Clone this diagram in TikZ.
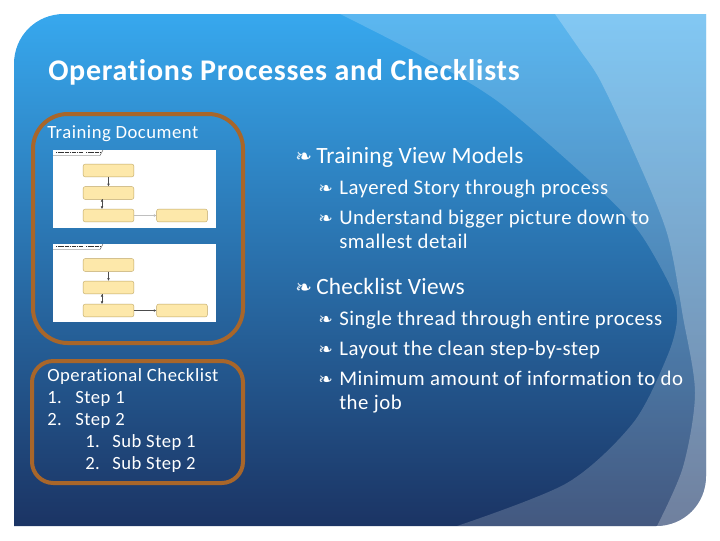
\documentclass[tikz,border=0pt]{standalone}
\usepackage{fontspec}
\setmainfont{Carlito}
\newfontfamily\bulletfont{DejaVu Sans}
\newfontfamily\titlefont[LetterSpace=2.4,Ligatures=NoCommon]{Carlito}
\newfontfamily\smallfont[LetterSpace=2.8,Ligatures=NoCommon]{Carlito}
\newfontfamily\headfont[LetterSpace=1.1,Ligatures=NoCommon]{Carlito}
\newfontfamily\subfont[LetterSpace=2.5,Ligatures=NoCommon]{Carlito}
\usetikzlibrary{arrows.meta}

\definecolor{slidetop}{RGB}{55,168,238}
\definecolor{slidemid}{RGB}{42,122,185}
\definecolor{slidebot}{RGB}{27,52,100}
\definecolor{framebrown}{RGB}{168,102,42}
\definecolor{boxfill}{RGB}{253,232,170}
\definecolor{boxline}{RGB}{190,165,100}

\tikzset{
  frame/.style={draw=framebrown,line width=3pt},
  stepbox/.style={shape=rectangle,rounded corners=1.5pt,fill=boxfill,draw=boxline,line width=0.3pt,minimum width=38pt,minimum height=9.6pt,inner sep=0pt},
  flow/.style={-{Latex[length=2pt,width=2pt]},draw=black!70,line width=0.4pt},
  tabline/.style={draw=black!70,line width=0.3pt},
  tabtext/.style={draw=black!80,line width=1.2pt,dash pattern=on 1pt off 0.3pt},
  title/.style={anchor=base west,text=white,inner sep=0pt,font=\fontsize{22.5}{22.5}\selectfont\titlefont\bfseries},
  small/.style={anchor=base west,text=white,inner sep=0pt,font=\fontsize{14}{14}\selectfont\smallfont},
  head/.style={anchor=base west,text=white,inner sep=0pt,font=\fontsize{17.5}{17.5}\selectfont\headfont},
  sub/.style={anchor=base west,text=white,inner sep=0pt,font=\fontsize{15.6}{15.6}\selectfont\subfont},
  bulletmark/.style={anchor=base west,text=white,inner sep=0pt,font=\fontsize{15}{15}\selectfont\bulletfont},
  bulletsmall/.style={anchor=base west,text=white,inner sep=0pt,font=\fontsize{13}{13}\selectfont\bulletfont},
}

\newcommand{\slideoutline}{(14,526) -- (14,64) .. controls (14,36) and (36,14) .. (64,14) -- (706,14) -- (706,476) .. controls (706,504) and (684,526) .. (656,526) -- cycle}

\begin{document}
\begin{tikzpicture}[x=0.75pt,y=-0.75pt]
\useasboundingbox (0,0) rectangle (720,540);

\shade [top color=slidetop,middle color=slidemid,bottom color=slidebot] \slideoutline;
\begin{scope}
\clip \slideoutline;
\fill [white,opacity=0.18] plot [smooth] coordinates {(340,14) (420,55) (500,103) (600,190) (640,233) (672,290) (677,320) (667,357) (633,423) (567,483) (457,526)} -- (720,540) -- (720,0) -- cycle;
\fill [white,opacity=0.24] plot [smooth] coordinates {(555,14) (580,50) (600,80) (633,150) (667,233) (683,317) (695,393) (683,467) (657,526)} -- (720,540) -- (720,0) -- cycle;
\end{scope}

\node[title] (0) at (48,80) {Operations Processes and Checklists};

\draw[frame,rounded corners=26pt] (33,114) rectangle (243,343);
\draw[frame,rounded corners=16pt] (32,361) rectangle (243,483);

\node[small] (1) at (47,138) {Training Document};

\fill[white] (53,150) rectangle (216,228);
\draw[tabline] (53,155.5) -- (100,155.5) -- (103,150);
\draw[tabtext] (56,152.5) -- (83,152.5);
\draw[tabtext] (86,152.5) -- (100,152.5);
\node[stepbox] (2) at (108.5,170.5) {};
\node[stepbox] (3) at (108.5,193) {};
\node[stepbox] (4) at (108.5,215.5) {};
\node[stepbox] (5) at (182,215.5) {};
\coordinate (c0) at (102,199);
\coordinate (c1) at (102,209);
\path [flow] (2) edge node {} (3);
\path [flow] (c0) edge node {} (c1);
\path [flow,draw=black!25] (4) edge node {} (5);

\fill[white] (53,244) rectangle (216,322);
\draw[tabline] (53,249.5) -- (100,249.5) -- (103,244);
\draw[tabtext] (56,246.5) -- (83,246.5);
\draw[tabtext] (86,246.5) -- (100,246.5);
\node[stepbox] (6) at (108.5,265) {};
\node[stepbox] (7) at (108.5,287.5) {};
\node[stepbox] (8) at (108.5,310.5) {};
\node[stepbox] (9) at (182,310.5) {};
\coordinate (c2) at (102,294);
\coordinate (c3) at (102,304);
\path [flow] (6) edge node {} (7);
\path [flow] (c2) edge node {} (c3);
\path [flow] (8) edge node {} (9);

\node[small] (10) at (47,381) {Operational Checklist};
\node[small] (11) at (47,403) {1.};
\node[small] (12) at (75,403) {Step 1};
\node[small] (13) at (47,425) {2.};
\node[small] (14) at (75,425) {Step 2};
\node[small] (15) at (85,447) {1.};
\node[small] (16) at (112,447) {Sub Step 1};
\node[small] (17) at (85,469) {2.};
\node[small] (18) at (112,469) {Sub Step 2};

\node[bulletmark] (19) at (295,163) {\char"2767};
\node[head] (20) at (316,163) {Training View Models};
\node[bulletsmall] (21) at (318,194) {\char"2767};
\node[sub] (22) at (339,194) {Layered Story through process};
\node[bulletsmall] (23) at (318,224) {\char"2767};
\node[sub] (24) at (339,224) {Understand bigger picture down to};
\node[sub] (25) at (339,248) {smallest detail};

\node[bulletmark] (26) at (295,294) {\char"2767};
\node[head] (27) at (316,294) {Checklist Views};
\node[bulletsmall] (28) at (318,325) {\char"2767};
\node[sub] (29) at (339,325) {Single thread through entire process};
\node[bulletsmall] (30) at (318,355) {\char"2767};
\node[sub] (31) at (339,355) {Layout the clean step-by-step};
\node[bulletsmall] (32) at (318,385) {\char"2767};
\node[sub] (33) at (339,385) {Minimum amount of information to do};
\node[sub] (34) at (339,409) {the job};
\end{tikzpicture}
\end{document}
